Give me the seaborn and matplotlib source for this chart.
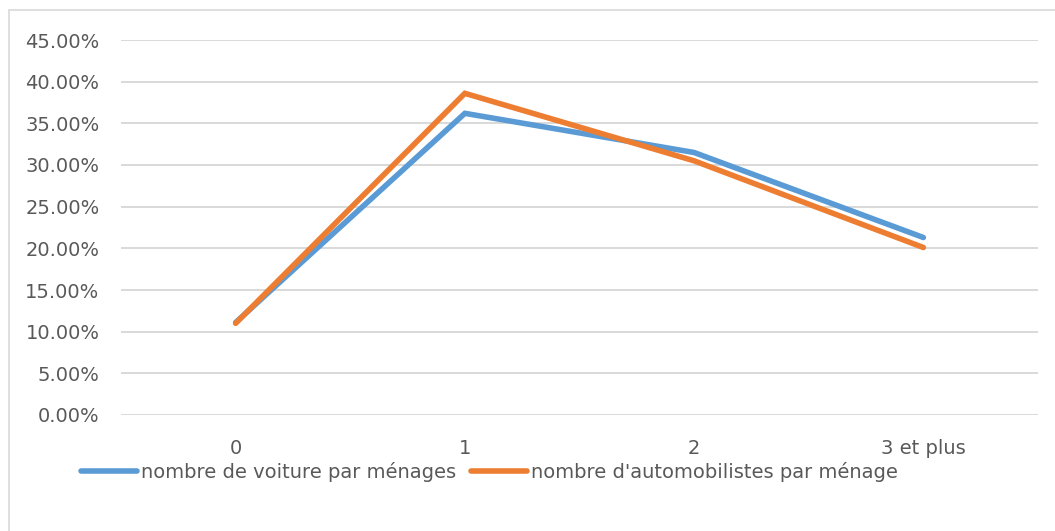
import matplotlib
matplotlib.use("Agg")
import matplotlib.pyplot as plt
from matplotlib.patches import Rectangle
from matplotlib.ticker import FuncFormatter, MultipleLocator
import pandas as pd
import seaborn as sns

# Share of households (%) by number of cars / number of drivers
categories = ["0", "1", "2", "3 et plus"]
voitures = [11.1, 36.2, 31.5, 21.3]
automobilistes = [11.0, 38.6, 30.5, 20.1]
series_names = ["nombre de voiture par ménages", "nombre d'automobilistes par ménage"]
colors = ["#5B9BD5", "#ED7D31"]

df = pd.DataFrame({
    "categorie": categories * 2,
    "part": voitures + automobilistes,
    "serie": [series_names[0]] * len(categories) + [series_names[1]] * len(categories),
})

sns.set_theme(style="white")
plt.rcParams["font.family"] = ["DejaVu Sans"]
text_color = "#595959"
grid_color = "#D9D9D9"
font_size = 14

fig = plt.figure(figsize=(10.55, 5.31), dpi=100)
ax = fig.add_axes([121 / 1055, 1 - 415 / 531, (1038 - 121) / 1055, (415 - 40) / 531])

sns.lineplot(
    data=df, x="categorie", y="part", hue="serie",
    palette=dict(zip(series_names, colors)), hue_order=series_names,
    linewidth=4.0, sort=False, ax=ax, legend=False,
    solid_capstyle="round", solid_joinstyle="miter",
)

ax.set_xlim(-0.5, len(categories) - 0.5)
ax.set_ylim(0, 45)
ax.yaxis.set_major_locator(MultipleLocator(5))
ax.yaxis.set_major_formatter(FuncFormatter(lambda v, _: f"{v:.2f}%"))
ax.grid(axis="y", color=grid_color, linewidth=1.4)
ax.set_axisbelow(True)
for side in ["top", "right", "left", "bottom"]:
    ax.spines[side].set_visible(False)
ax.set_xlabel("")
ax.set_ylabel("")
ax.tick_params(axis="y", length=0, pad=15.5, labelsize=font_size, labelcolor=text_color)
ax.tick_params(axis="x", length=0, pad=17, labelsize=font_size, labelcolor=text_color)

handles = [plt.Line2D([], [], color=c, linewidth=4.0, solid_capstyle="round") for c in colors]
fig.legend(
    handles, series_names, loc="center left", bbox_to_anchor=(73 / 1055, 1 - 472 / 531),
    ncol=2, frameon=False, fontsize=font_size, labelcolor=text_color,
    handlelength=2.9, handletextpad=0.2, columnspacing=0.75, borderaxespad=0,
)

# Chart area border
fig.patches.append(Rectangle((9 / 1055, -0.05), 1.2, 1 - 10 / 531 + 0.05,
                             transform=fig.transFigure, fill=False,
                             edgecolor=grid_color, linewidth=1.2))

fig.savefig("out.png", dpi=100, facecolor="white")
